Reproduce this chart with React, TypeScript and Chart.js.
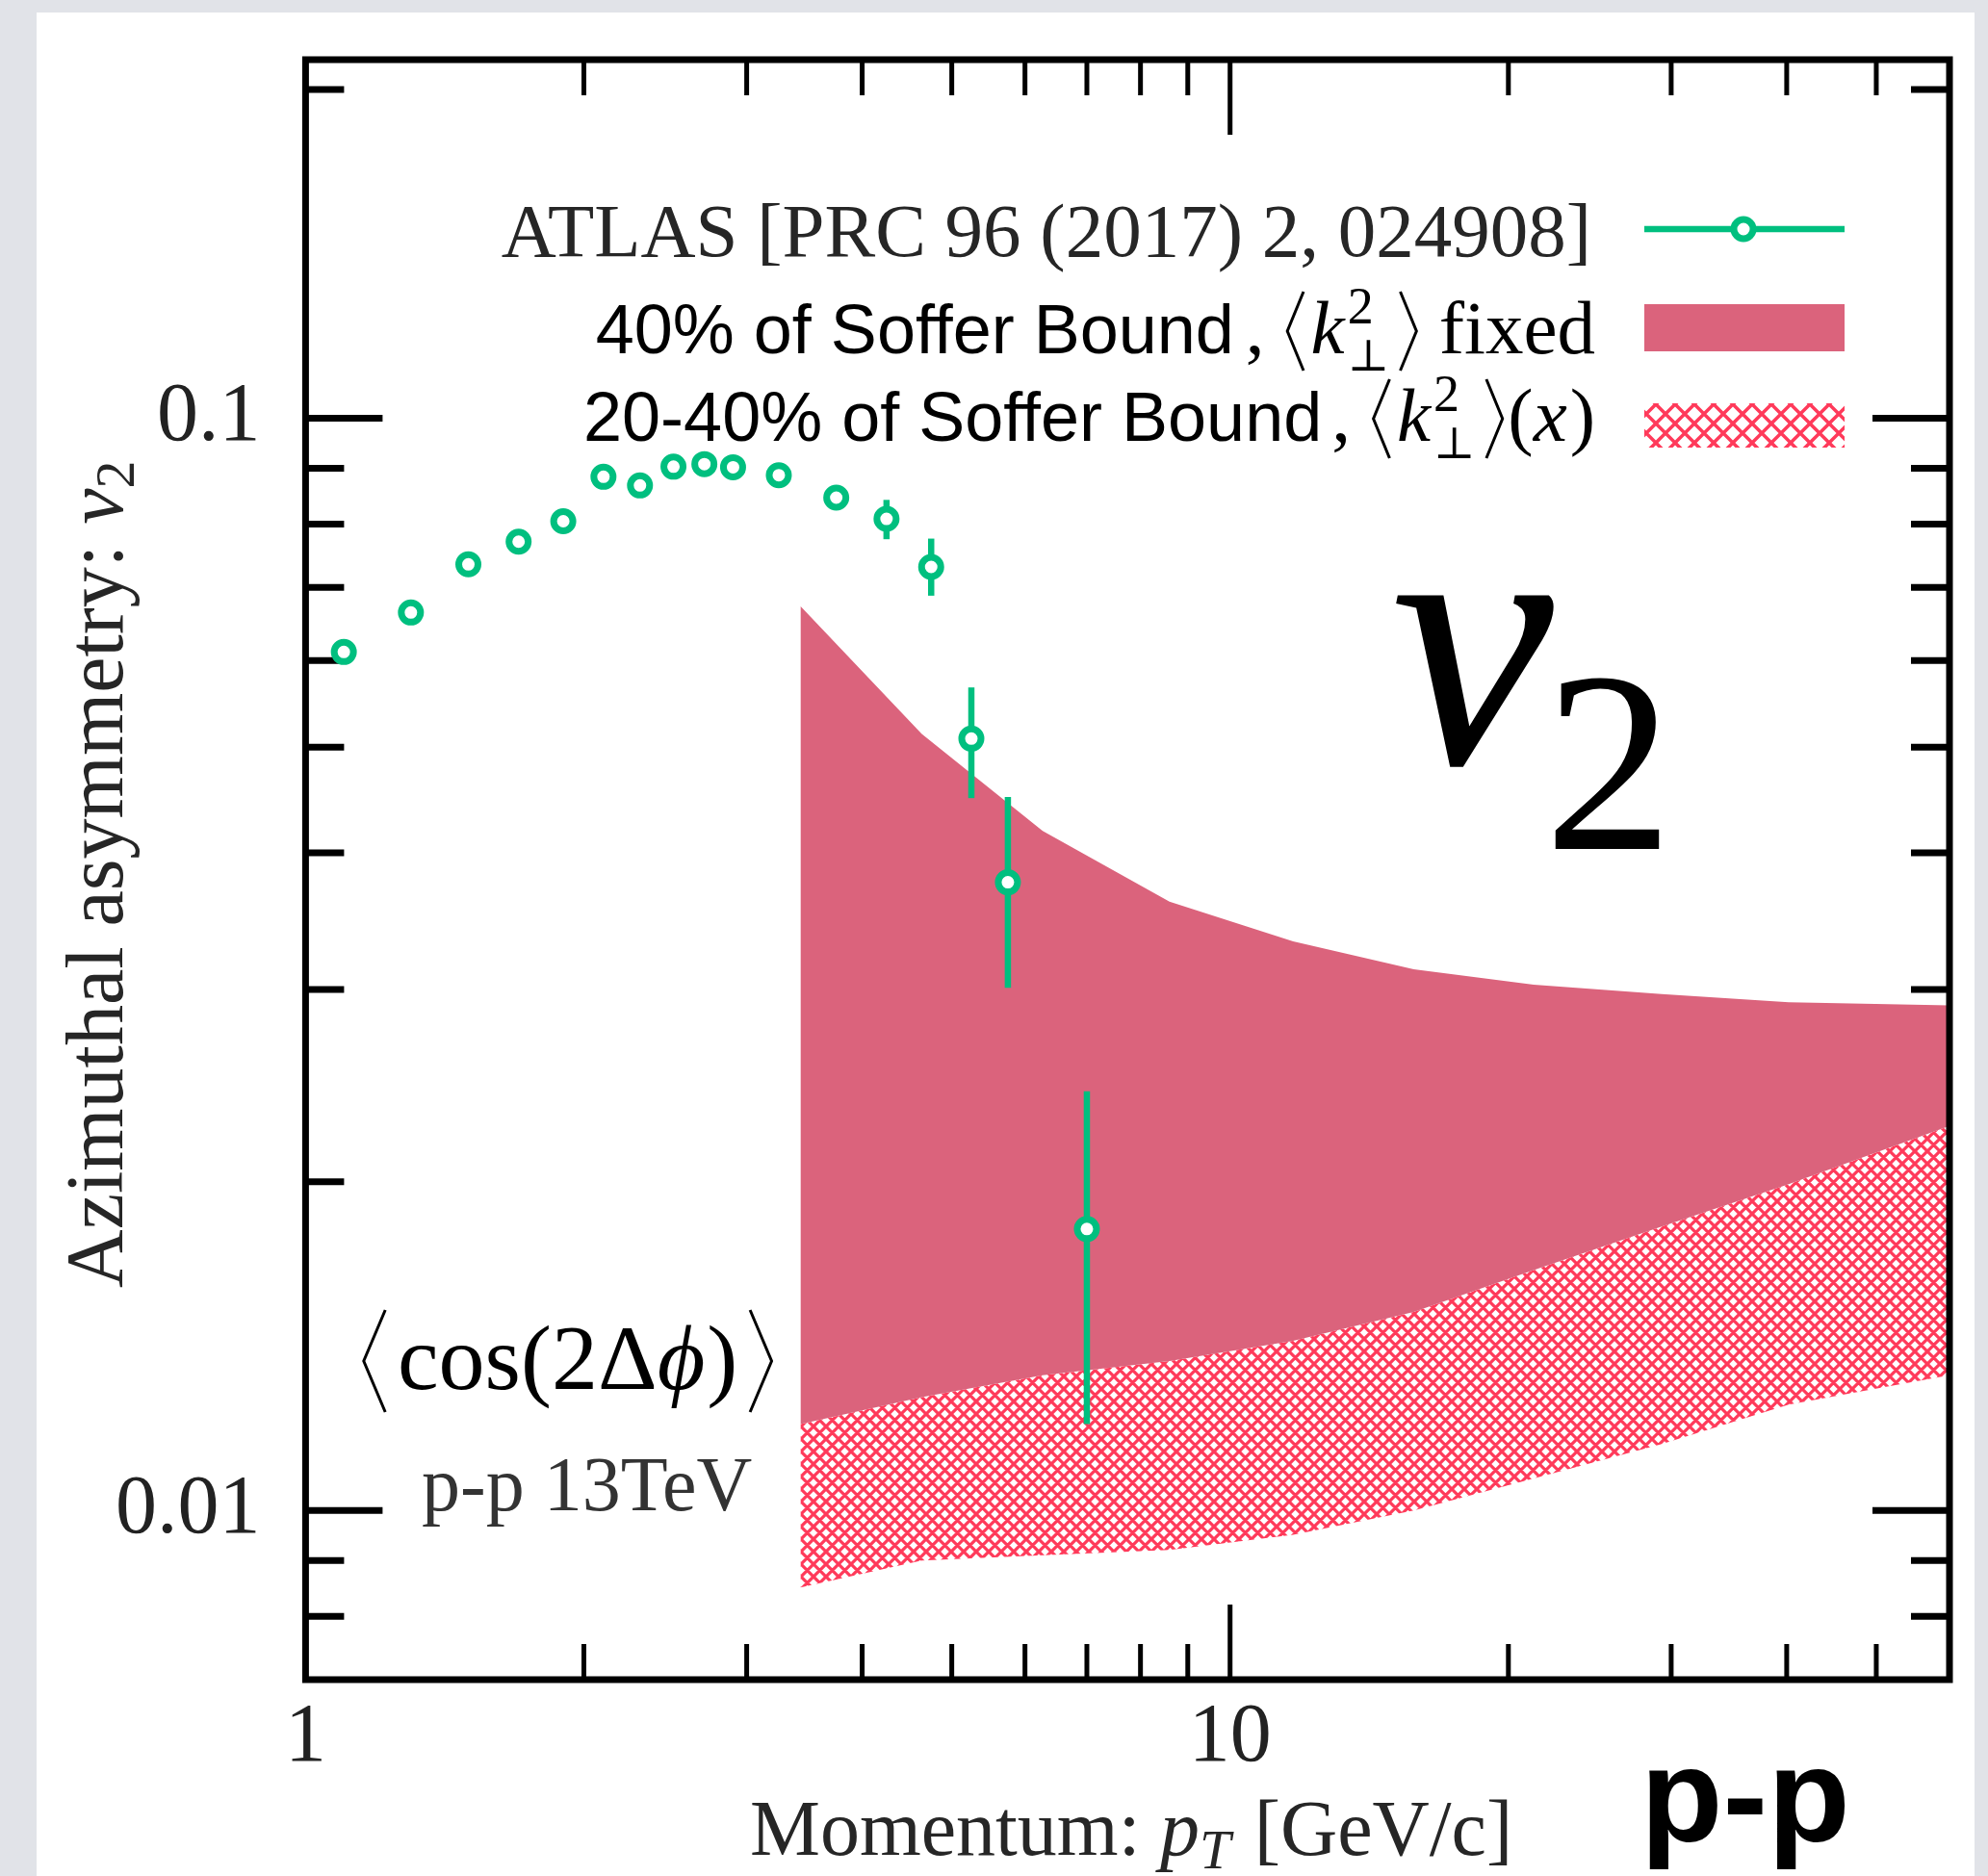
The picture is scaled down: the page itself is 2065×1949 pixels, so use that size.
import React, { useEffect, useRef } from "react";
import { Chart, registerables } from "chart.js";

Chart.register(...registerables);

// ATLAS p-p 13 TeV, v2 vs pT
const atlasPt = [1.1, 1.3, 1.5, 1.7, 1.9, 2.1, 2.3, 2.5, 2.7, 2.9, 3.25, 3.75, 4.25, 4.75, 5.25, 5.75, 7.0];
const atlasV2 = [0.0611, 0.0664, 0.0735, 0.0771, 0.0805, 0.0884, 0.0868, 0.0903, 0.0908, 0.0902, 0.0887, 0.0846, 0.0809, 0.0731, 0.0509, 0.0376, 0.0181];
const atlasV2Low = [0.0604, 0.0657, 0.0727, 0.0763, 0.0797, 0.0875, 0.0859, 0.0894, 0.0898, 0.0892, 0.0876, 0.0834, 0.0775, 0.0688, 0.0449, 0.0301, 0.012];
const atlasV2High = [0.0618, 0.0671, 0.0743, 0.0779, 0.0813, 0.0893, 0.0877, 0.0912, 0.0918, 0.0912, 0.0898, 0.0858, 0.0842, 0.0776, 0.0567, 0.045, 0.0242];

// Model bands: 40% of Soffer bound with fixed <k2>, and 20-40% with <k2>(x)
const bandPt = [3.43, 4.64, 6.27, 8.6, 11.7, 15.8, 21.3, 29.3, 40.2, 60];
const fixedUpper = [0.0673, 0.0514, 0.0419, 0.0361, 0.0332, 0.0313, 0.0303, 0.0297, 0.0292, 0.029];
const xDepUpper = [0.012, 0.0127, 0.0133, 0.0137, 0.0143, 0.0152, 0.0166, 0.0182, 0.0199, 0.0225];
const xDepLower = [0.0085, 0.009, 0.0091, 0.0092, 0.0095, 0.01, 0.0107, 0.0115, 0.0125, 0.0133];

// Axis ticks
const xMajorTicks = [1, 10];
const xTickLabels = ["1", "10"];
const xMinorTicks = [2, 3, 4, 5, 6, 7, 8, 9, 20, 30, 40, 50];
const yMajorTicks = [0.01, 0.1];
const yTickLabels = ["0.01", "0.1"];
const yMinorTicks = [0.008, 0.009, 0.02, 0.03, 0.04, 0.05, 0.06, 0.07, 0.08, 0.09, 0.2];

const X_MIN = 1;
const X_MAX = 60;
const Y_MIN = 0.007;
const Y_MAX = 0.213;

const GREEN = "#00BF7F";
const PINK = "#DB637C";
const HATCH = "#FF3A5A";
const SERIF = '"Liberation Serif", "DejaVu Serif", serif';
const SANS = '"Liberation Sans", "DejaVu Sans", sans-serif';

type Piece = {
  t?: string;
  f?: string;
  dy?: number;
  br?: "open" | "close";
  up?: number;
  dn?: number;
  w?: number;
  stack?: Piece[];
  gap?: number;
};

function pieceWidth(ctx: CanvasRenderingContext2D, p: Piece): number {
  if (p.br) return (p.w || 0) + (p.gap || 0);
  if (p.stack) return Math.max(...p.stack.map((s) => pieceWidth(ctx, s))) + (p.gap || 0);
  ctx.font = p.f || `80px ${SERIF}`;
  return ctx.measureText(p.t || "").width + (p.gap || 0);
}

function runWidth(ctx: CanvasRenderingContext2D, pieces: Piece[]) {
  return pieces.reduce((s, p) => s + pieceWidth(ctx, p), 0);
}

function drawRun(ctx: CanvasRenderingContext2D, pieces: Piece[], x: number, base: number) {
  ctx.textAlign = "left";
  ctx.textBaseline = "alphabetic";
  for (const p of pieces) {
    if (p.br) {
      const w = p.w || 20;
      const top = base - (p.up || 50);
      const bot = base + (p.dn || 15);
      const mid = (top + bot) / 2;
      ctx.save();
      ctx.lineWidth = 3;
      ctx.strokeStyle = ctx.fillStyle as string;
      ctx.beginPath();
      if (p.br === "open") {
        ctx.moveTo(x + w * 0.85, top);
        ctx.lineTo(x + w * 0.15, mid);
        ctx.lineTo(x + w * 0.85, bot);
      } else {
        ctx.moveTo(x + w * 0.15, top);
        ctx.lineTo(x + w * 0.85, mid);
        ctx.lineTo(x + w * 0.15, bot);
      }
      ctx.stroke();
      ctx.restore();
    } else if (p.stack) {
      for (const s of p.stack) {
        ctx.font = s.f || `80px ${SERIF}`;
        ctx.fillText(s.t || "", x, base + (s.dy || 0));
      }
    } else {
      ctx.font = p.f || `80px ${SERIF}`;
      ctx.fillText(p.t || "", x, base + (p.dy || 0));
    }
    x += pieceWidth(ctx, p);
  }
}

function makeHatch(cell: number, lw: number): CanvasPattern | string {
  const c = document.createElement("canvas");
  c.width = cell;
  c.height = cell;
  const g = c.getContext("2d");
  if (!g) return HATCH;
  g.fillStyle = "#ffffff";
  g.fillRect(0, 0, cell, cell);
  g.strokeStyle = HATCH;
  g.lineWidth = lw;
  g.beginPath();
  for (const k of [-cell, 0, cell]) {
    g.moveTo(k - 2, -2);
    g.lineTo(k + cell + 2, cell + 2);
    g.moveTo(k - 2, cell + 2);
    g.lineTo(k + cell + 2, -2);
  }
  g.stroke();
  return g.createPattern(c, "repeat") || HATCH;
}

function nearValue(v: number, list: number[]) {
  return list.findIndex((t) => Math.abs(Math.log10(v) - Math.log10(t)) < 1e-6);
}

export default function App() {
  const ref = useRef<HTMLCanvasElement | null>(null);

  useEffect(() => {
    const canvas = ref.current;
    if (!canvas) return;
    const hatchPlot = makeHatch(13, 3.2);
    const hatchKey = makeHatch(20, 3.5);

    const decor = {
      id: "decor",
      beforeDraw(chart: Chart) {
        const ctx = chart.ctx;
        ctx.save();
        ctx.fillStyle = "#E1E3E8";
        ctx.fillRect(0, 0, chart.width, chart.height);
        ctx.fillStyle = "#ffffff";
        ctx.fillRect(38, 13, 2013, chart.height - 13);
        ctx.restore();
      },
      beforeDatasetsDraw(chart: Chart) {
        const { ctx, chartArea: a } = chart;
        const xs = chart.scales.x;
        const ys = chart.scales.y;
        ctx.save();
        ctx.strokeStyle = "#000";
        ctx.lineCap = "butt";
        const seg = (x1: number, y1: number, x2: number, y2: number) => {
          ctx.beginPath();
          ctx.moveTo(x1, y1);
          ctx.lineTo(x2, y2);
          ctx.stroke();
        };
        ctx.lineWidth = 5;
        for (const v of xMinorTicks) {
          const px = xs.getPixelForValue(v);
          seg(px, a.bottom, px, a.bottom - 37);
          seg(px, a.top, px, a.top + 37);
        }
        for (const v of xMajorTicks) {
          const px = xs.getPixelForValue(v);
          seg(px, a.bottom, px, a.bottom - 78);
          seg(px, a.top, px, a.top + 78);
        }
        ctx.lineWidth = 7;
        for (const v of yMinorTicks) {
          const py = ys.getPixelForValue(v);
          seg(a.left, py, a.left + 40, py);
          seg(a.right, py, a.right - 40, py);
        }
        for (const v of yMajorTicks) {
          const py = ys.getPixelForValue(v);
          seg(a.left, py, a.left + 80, py);
          seg(a.right, py, a.right - 80, py);
        }
        ctx.restore();
      },
      beforeDatasetDraw(chart: Chart, args: { index: number }) {
        if (args.index !== 0) return;
        const ctx = chart.ctx;
        const xs = chart.scales.x;
        const ys = chart.scales.y;
        ctx.save();
        ctx.strokeStyle = GREEN;
        ctx.lineWidth = 6.5;
        atlasPt.forEach((pt, i) => {
          const px = xs.getPixelForValue(pt);
          ctx.beginPath();
          ctx.moveTo(px, ys.getPixelForValue(atlasV2Low[i]));
          ctx.lineTo(px, ys.getPixelForValue(atlasV2High[i]));
          ctx.stroke();
        });
        ctx.restore();
      },
      afterDatasetsDraw(chart: Chart) {
        const { ctx, chartArea: a } = chart;
        ctx.save();
        ctx.strokeStyle = "#000";
        ctx.lineWidth = 7;
        ctx.strokeRect(a.left, a.top, a.right - a.left, a.bottom - a.top);
        ctx.restore();
      },
      afterDraw(chart: Chart) {
        const ctx = chart.ctx;
        ctx.save();

        // Legend row 1: ATLAS data
        ctx.fillStyle = "#262626";
        ctx.font = `79px ${SERIF}`;
        ctx.textAlign = "right";
        ctx.textBaseline = "alphabetic";
        ctx.fillText("ATLAS [PRC 96 (2017) 2, 024908]", 1653, 266);
        ctx.strokeStyle = GREEN;
        ctx.lineWidth = 6.5;
        ctx.beginPath();
        ctx.moveTo(1708, 238);
        ctx.lineTo(1916, 238);
        ctx.stroke();
        ctx.beginPath();
        ctx.arc(1811, 238, 10, 0, Math.PI * 2);
        ctx.fillStyle = "#fff";
        ctx.fill();
        ctx.lineWidth = 7;
        ctx.stroke();

        // Legend row 2: fixed <k2> band
        ctx.fillStyle = "#000";
        const kStack: Piece = {
          stack: [
            { t: "2", f: `54px ${SERIF}`, dy: -31 },
            { t: "\u22A5", f: `46px ${SERIF}`, dy: 18 },
          ],
          gap: 8,
        };
        const row2: Piece[] = [
          { t: "40% of Soffer Bound", f: `72px ${SANS}`, gap: 12 },
          { t: ",", f: `79px ${SERIF}`, gap: 20 },
          { br: "open", up: 64, dn: 18, w: 24, gap: 4 },
          { t: "k", f: `italic 79px ${SERIF}`, gap: 3 },
          kStack,
          { br: "close", up: 64, dn: 18, w: 24 },
          { t: " fixed", f: `79px ${SERIF}` },
        ];
        drawRun(ctx, row2, 1657 - runWidth(ctx, row2), 367);
        ctx.fillStyle = PINK;
        ctx.fillRect(1708, 316, 208, 49);

        // Legend row 3: <k2>(x) band
        ctx.fillStyle = "#000";
        const row3: Piece[] = [
          { t: "20-40% of Soffer Bound", f: `72px ${SANS}`, gap: 10 },
          { t: ",", f: `79px ${SERIF}`, gap: 20 },
          { br: "open", up: 64, dn: 18, w: 24, gap: 4 },
          { t: "k", f: `italic 79px ${SERIF}`, gap: 3 },
          kStack,
          { br: "close", up: 64, dn: 18, w: 24, gap: 2 },
          { t: "(", f: `79px ${SERIF}` },
          { t: "x", f: `italic 79px ${SERIF}`, gap: 3 },
          { t: ")", f: `79px ${SERIF}` },
        ];
        drawRun(ctx, row3, 1657 - runWidth(ctx, row3), 458);
        ctx.fillStyle = hatchKey as CanvasPattern;
        ctx.fillRect(1708, 419, 208, 46);

        // Big v2 label
        ctx.fillStyle = "#000";
        ctx.textAlign = "left";
        ctx.font = `italic 380px ${SERIF}`;
        ctx.fillText("v", 1445, 793);
        ctx.font = `268px ${SERIF}`;
        ctx.fillText("2", 1604, 882);

        // Observable label
        const obs: Piece[] = [
          { br: "open", up: 82, dn: 24, w: 32, gap: 8 },
          { t: "cos(2\u0394", f: `96px ${SERIF}` },
          { t: "\u03D5", f: `italic 96px ${SERIF}`, gap: 2 },
          { t: ")", f: `96px ${SERIF}`, gap: 8 },
          { br: "close", up: 82, dn: 24, w: 32 },
        ];
        drawRun(ctx, obs, 373, 1443);

        ctx.fillStyle = "#333";
        ctx.font = `80px ${SERIF}`;
        ctx.fillText("p-p 13TeV", 438, 1569);

        // System tag
        ctx.fillStyle = "#000";
        ctx.font = `bold 140px ${SANS}`;
        ctx.fillText("p-p", 1704, 1913);

        // X axis title
        const xTitle: Piece[] = [
          { t: "Momentum: ", f: `82px ${SERIF}` },
          { t: "p", f: `italic 82px ${SERIF}` },
          { t: "T", f: `italic 58px ${SERIF}`, dy: 14, gap: 4 },
          { t: " [GeV/c]", f: `82px ${SERIF}` },
        ];
        ctx.fillStyle = "#262626";
        drawRun(ctx, xTitle, 779, 1927);

        // Y axis title
        ctx.save();
        ctx.translate(127, 1338);
        ctx.rotate(-Math.PI / 2);
        const yTitle: Piece[] = [
          { t: "Azimuthal asymmetry: ", f: `84px ${SERIF}` },
          { t: "v", f: `italic 84px ${SERIF}` },
          { t: "2", f: `58px ${SERIF}`, dy: 12 },
        ];
        drawRun(ctx, yTitle, 0, 0);
        ctx.restore();

        ctx.restore();
      },
    };

    const chart = new Chart(canvas, {
      type: "line",
      data: {
        datasets: [
          {
            type: "scatter",
            label: "ATLAS",
            data: atlasPt.map((x, i) => ({ x, y: atlasV2[i] })),
            showLine: false,
            pointRadius: 10,
            pointBorderWidth: 7,
            pointBorderColor: GREEN,
            pointBackgroundColor: "#ffffff",
            pointStyle: "circle",
          } as any,
          {
            label: "40% of Soffer Bound, fixed",
            data: bandPt.map((x, i) => ({ x, y: fixedUpper[i] })),
            borderWidth: 0,
            borderColor: "rgba(0,0,0,0)",
            pointRadius: 0,
            tension: 0,
            fill: "+1",
            backgroundColor: PINK,
          },
          {
            label: "20-40% of Soffer Bound, x-dependent",
            data: bandPt.map((x, i) => ({ x, y: xDepUpper[i] })),
            borderWidth: 0,
            borderColor: "rgba(0,0,0,0)",
            pointRadius: 0,
            tension: 0,
            fill: "+1",
            backgroundColor: hatchPlot as any,
          },
          {
            label: "lower",
            data: bandPt.map((x, i) => ({ x, y: xDepLower[i] })),
            borderWidth: 0,
            borderColor: "rgba(0,0,0,0)",
            pointRadius: 0,
            tension: 0,
            fill: false,
          },
        ],
      },
      options: {
        responsive: false,
        animation: false,
        devicePixelRatio: 1,
        layout: { padding: { top: 62, right: 40, left: 0, bottom: 0 } },
        plugins: {
          legend: { display: false },
          tooltip: { enabled: false },
          title: { display: false },
        },
        scales: {
          x: {
            type: "logarithmic",
            min: X_MIN,
            max: X_MAX,
            grid: { display: false, drawTicks: false },
            border: { display: false },
            ticks: {
              autoSkip: false,
              maxRotation: 0,
              padding: 18,
              color: "#222",
              font: { family: SERIF, size: 86, lineHeight: 1 },
              callback: (v: any) => {
                const i = nearValue(Number(v), xMajorTicks);
                return i >= 0 ? xTickLabels[i] : "";
              },
            },
            afterFit: (s: any) => {
              s.height = 204;
              s.paddingLeft = 0;
              s.paddingRight = 0;
            },
          },
          y: {
            type: "logarithmic",
            min: Y_MIN,
            max: Y_MAX,
            grid: { display: false, drawTicks: false },
            border: { display: false },
            ticks: {
              autoSkip: false,
              padding: 47,
              color: "#222",
              font: { family: SERIF, size: 86, lineHeight: 1 },
              callback: (v: any) => {
                const i = nearValue(Number(v), yMajorTicks);
                return i >= 0 ? yTickLabels[i] : "";
              },
            },
            afterFit: (s: any) => {
              s.width = 317.4;
              s.paddingTop = 0;
              s.paddingBottom = 0;
            },
          },
        },
      } as any,
      plugins: [decor as any],
    });

    return () => chart.destroy();
  }, []);

  return (
    <div style={{ position: "absolute", left: 0, top: 0, width: 2065, height: 1949 }}>
      <canvas ref={ref} width={2065} height={1949} style={{ display: "block", width: 2065, height: 1949 }} />
    </div>
  );
}
